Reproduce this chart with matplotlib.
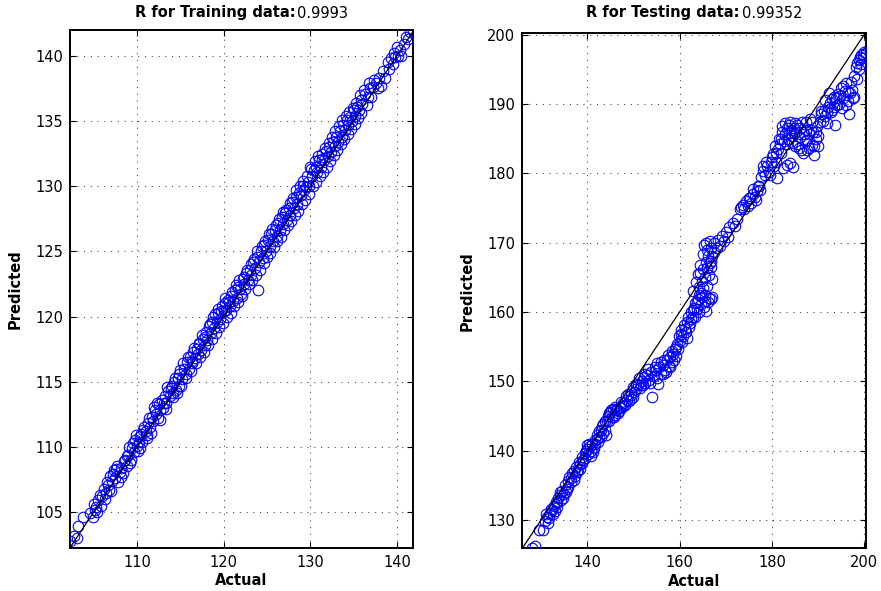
import matplotlib
matplotlib.use("Agg")
import matplotlib.pyplot as plt

plt.rcParams['font.family'] = ['DejaVu Sans']

# ---------------- data ----------------
train_actual = [
102.3,102.7,103.1,103.2,103.8,104.6,105.0,105.2,105.4,105.5,105.7,106.0,106.2,106.4,106.6,106.8,
106.9,107.1,107.3,107.5,107.6,107.8,108.0,108.2,108.4,108.6,108.8,109.0,109.1,109.3,109.5,109.6,
109.8,110.0,110.1,110.3,110.5,110.6,110.8,111.0,111.2,111.3,111.5,111.7,111.9,112.0,112.2,112.4,
112.5,112.7,112.9,113.0,113.2,113.4,113.6,113.8,114.0,114.1,114.3,114.5,114.7,114.8,115.0,115.2,
115.4,115.6,115.8,116.0,116.1,116.3,116.5,116.7,116.9,117.0,117.2,117.4,117.6,117.8,118.0,118.1,
118.3,118.5,118.7,118.9,119.0,119.2,119.4,119.6,119.8,120.0,120.1,120.3,120.5,120.7,120.9,121.1,
121.3,121.5,121.7,121.9,122.0,122.2,122.4,122.6,122.8,123.0,123.2,123.4,123.6,123.8,124.0,124.1,
124.3,124.5,124.7,124.9,125.1,125.3,125.5,125.7,125.9,126.1,126.3,126.5,126.7,126.9,127.1,127.3,
127.5,127.7,127.9,128.1,128.3,128.5,128.7,128.9,129.1,129.3,129.5,129.7,129.9,130.1,130.2,130.4,
130.6,130.8,131.0,131.2,131.4,131.6,131.8,132.0,132.2,132.4,132.6,132.8,133.0,133.2,133.4,133.6,
133.8,134.0,134.2,134.4,134.6,134.8,135.0,135.2,135.4,135.6,135.8,136.0,136.3,136.6,136.9,137.2,
137.6,137.9,138.2,138.6,139.0,139.3,139.6,139.8,140.0,140.3,140.5,141.0,141.5,141.8]
train_pred = [
102.8,103.2,103.0,103.9,104.6,104.9,105.6,105.2,105.0,105.9,106.3,106.2,106.8,106.5,107.1,106.7,
107.8,107.4,108.2,107.6,108.3,107.3,108.1,108.4,108.0,109.0,108.5,109.4,110.0,109.0,110.3,109.6,
110.5,110.1,109.7,110.8,111.0,110.4,111.5,111.2,110.9,111.8,111.5,112.3,112.0,113.1,112.5,112.2,
113.3,112.8,113.6,113.0,113.9,113.4,114.3,113.9,114.7,114.1,115.0,114.4,115.3,114.7,115.9,115.2,
116.0,115.6,116.5,116.0,116.9,116.4,117.3,116.8,117.5,117.1,118.0,117.4,118.3,117.8,118.8,118.2,
119.3,118.7,119.6,119.1,120.2,119.6,120.3,119.8,120.8,120.4,121.0,120.5,121.3,120.8,121.6,121.2,
122.0,121.4,122.3,122.1,121.7,122.9,122.5,123.3,122.8,123.6,123.2,124.2,123.7,124.6,122.0,124.2,
125.0,124.5,125.5,125.0,125.9,125.4,126.3,125.8,126.6,126.2,127.2,126.6,127.6,127.1,127.9,127.4,
128.3,127.8,128.8,128.3,129.2,128.6,129.5,129.3,130.0,129.7,129.9,130.3,130.0,131.3,130.8,131.2,
131.5,131.1,132.0,131.5,132.5,132.0,132.7,132.3,133.0,132.6,133.4,133.1,133.8,133.4,134.2,133.8,
134.7,134.3,135.1,134.7,135.3,135.0,135.8,135.4,136.1,135.8,136.6,136.3,137.1,136.8,137.5,137.6,
137.9,138.3,137.7,138.3,139.5,139.8,140.2,139.9,140.7,140.4,140.0,141.4,141.8,141.9]

# second group of training points (actual, predicted)
train_pairs_b = [
(104.9,104.6),(105.3,105.4),(105.8,105.5),(106.3,106.0),(106.5,107.3),(107.0,106.6),(107.2,107.9),
(107.7,108.5),(108.1,107.7),(108.5,108.9),(108.9,109.3),(109.2,108.8),(109.4,109.9),(109.9,110.9),
(110.2,110.4),(110.4,109.9),(110.7,111.3),(111.1,110.7),(111.4,112.2),(111.6,111.1),(112.1,112.8),
(112.3,113.4),(112.6,112.1),(113.1,113.4),(113.3,112.9),(113.5,114.6),(113.9,114.5),(114.2,113.8),
(114.4,115.3),(114.6,114.1),(114.9,115.6),(115.1,114.7),(115.3,116.4),(115.7,115.3),(115.9,116.9),
(116.2,115.8),(116.4,116.6),(116.6,117.6),(116.8,116.4),(117.1,117.9),(117.3,116.9),(117.5,118.6),
(117.7,117.3),(117.9,118.4),(118.2,117.8),(118.4,119.4),(118.6,118.3),(118.8,120.0),(119.1,118.7),
(119.3,120.6),(119.5,119.2),(119.7,120.4),(119.9,119.5),(120.2,121.4),(120.4,120.0),(120.6,121.1),
(120.8,120.3),(121.0,121.9),(121.2,120.8),(121.4,122.4),(121.6,121.1),(121.8,122.8),(122.1,121.6),
(122.3,123.0),(122.5,122.1),(122.7,123.6),(122.9,122.5),(123.1,124.0),(123.3,122.8),(123.5,124.4),
(123.7,123.2),(123.9,125.0),(124.2,123.6),(124.4,125.4),(124.6,124.1),(124.8,125.8),(125.0,124.6),
(125.2,126.3),(125.4,124.9),(125.6,126.7),(125.8,125.3),(126.0,127.0),(126.2,125.8),(126.4,127.5),
(126.6,126.1),(126.8,128.0),(127.0,126.6),(127.2,128.2),(127.4,127.0),(127.6,128.7),(127.8,127.3),
(128.0,129.1),(128.2,127.8),(128.4,129.7),(128.6,128.1),(128.8,130.0),(129.0,128.6),(129.2,130.4),
(129.4,128.9),(129.6,130.8),(129.8,129.4),(130.0,131.5),(130.3,130.0),(130.5,131.9),(130.7,130.3),
(130.9,132.3),(131.1,130.8),(131.3,132.1),(131.5,131.1),(131.7,132.9),(131.9,131.5),(132.1,133.3),
(132.3,131.9),(132.5,133.8),(132.7,132.4),(132.9,134.2),(133.1,132.8),(133.3,134.6),(133.5,133.2),
(133.7,135.1),(133.9,133.6),(134.1,135.4),(134.3,134.0),(134.5,135.7),(134.7,134.4),(134.9,136.0),
(135.1,134.8),(135.3,136.4),(135.5,135.2),(135.7,137.0),(135.9,135.6),(136.2,137.4),(136.5,136.2),
(136.8,137.9),(137.0,136.8),(137.4,138.1),(137.8,137.5),(138.4,138.8),(139.1,139.0),(139.5,139.4),
(140.1,140.0),(140.8,140.9),(141.3,141.3)]

test_actual = [
128.0,128.6,129.6,130.4,130.8,131.2,131.5,131.8,132.2,132.5,132.8,133.1,133.4,133.7,134.0,134.3,
134.6,134.9,135.2,135.5,135.8,136.1,136.4,136.7,137.0,137.3,137.6,137.9,138.2,138.5,138.8,139.1,
139.4,139.7,140.0,140.2,140.5,140.8,141.1,141.4,141.7,142.0,142.3,142.6,142.9,143.2,143.5,143.8,
144.1,144.4,144.7,145.0,145.3,145.6,145.9,146.2,146.6,147.0,147.4,147.8,148.2,148.6,149.0,149.4,
149.8,150.2,150.6,151.0,151.4,151.8,152.2,152.6,153.0,153.4,153.8,154.1,154.4,154.8,155.2,155.6,
156.0,156.4,156.8,157.2,157.6,158.0,158.3,158.6,158.9,159.2,159.5,159.8,160.1,160.4,160.7,161.0,
161.3,161.6,161.9,162.2,162.5,162.8,163.1,163.4,163.7,164.0,164.3,164.6,164.9,165.2,165.5,165.8,
166.1,166.4,166.8,167.1,163.0,163.6,164.2,164.5,164.8,165.1,165.4,165.7,165.9,166.2,166.5,166.8,
167.1,167.4,165.8,166.6,168.0,168.4,168.8,169.2,169.6,170.1,170.8,171.5,172.4,173.3,173.8,174.3,
174.8,175.3,175.8,176.3,176.8,177.3,177.7,178.1,178.5,178.9,179.3,179.7,180.1,180.5,180.9,181.3,
181.2,182.5,183.2,183.9,184.6,181.7,182.0,182.3,182.6,182.9,183.2,183.5,183.8,184.1,184.4,184.7,
185.0,185.3,185.6,185.9,186.2,186.5,186.8,187.1,187.4,187.7,188.0,188.3,188.6,188.9,189.2,189.5,
189.8,190.1,190.4,190.7,191.0,191.3,191.6,191.9,192.2,192.5,192.8,193.1,193.4,193.7,194.0,194.3,
194.6,194.9,195.2,195.5,195.8,196.1,196.4,196.7,197.0,197.3,197.6,197.9,198.2,198.5,198.8,199.1,
199.4,199.7,200.0,200.4]
test_pred = [
125.9,126.3,128.5,128.6,129.8,130.4,129.6,131.0,131.6,130.8,132.0,132.6,131.9,133.2,133.6,132.9,
134.1,133.8,135.0,134.5,135.6,136.2,135.4,136.7,137.0,136.4,137.6,137.2,138.3,138.0,139.0,138.6,
139.6,139.9,140.2,139.5,140.6,140.0,141.0,140.4,141.5,142.3,141.2,142.8,142.0,143.6,142.6,144.3,
142.3,145.0,144.2,145.5,144.8,146.0,145.1,145.8,145.4,146.3,146.1,146.8,146.6,147.3,147.1,148.0,
147.7,148.5,148.9,149.4,149.0,150.1,150.6,149.8,150.9,150.2,151.3,147.8,150.7,151.6,150.4,152.0,
151.1,152.4,151.6,153.0,152.2,153.5,152.8,154.0,154.7,153.6,155.4,156.6,155.8,157.4,156.6,158.1,
157.1,158.6,159.3,158.4,160.0,159.2,160.6,161.3,160.4,161.8,162.5,161.1,162.1,160.7,161.6,160.2,
161.4,162.0,161.8,162.2,163.0,164.3,163.6,165.6,164.4,166.2,165.0,167.2,166.3,168.0,167.0,169.2,
168.1,170.0,170.0,170.3,169.2,170.4,169.5,171.0,170.2,171.6,172.2,172.8,173.4,175.1,175.5,176.0,
175.3,176.4,177.0,176.6,177.4,178.2,179.4,180.4,179.8,181.1,180.2,181.6,182.3,181.1,182.9,183.5,
179.3,180.7,181.2,181.5,180.9,184.2,185.0,186.0,184.6,185.6,186.6,185.0,187.0,186.2,184.4,185.8,
187.2,186.0,184.2,183.6,185.2,187.4,183.0,184.6,186.3,183.4,185.6,187.9,184.1,186.0,182.6,185.0,
186.8,184.0,187.4,188.5,187.6,189.0,188.2,187.2,189.5,190.2,188.8,190.7,189.6,187.0,190.9,191.5,
190.0,192.3,189.4,190.8,191.9,193.0,190.4,188.6,191.6,192.0,190.8,194.0,195.4,195.9,196.4,196.8,
195.8,197.2,197.5,197.4]

# second group of testing points (actual, predicted)
test_pairs_b = [
(131.0,130.9),(131.7,130.2),(132.3,131.4),(133.0,131.3),(133.5,132.5),(134.1,134.0),(134.7,133.2),
(135.3,134.0),(135.9,134.8),(136.5,136.0),(137.1,135.8),(137.7,136.9),(138.3,137.4),(138.9,138.2),
(139.5,138.9),(139.9,140.8),(140.3,140.9),(140.7,139.2),(141.2,139.8),(141.6,140.9),(142.1,141.6),
(142.5,141.9),(143.0,142.9),(143.4,143.9),(143.9,143.0),(144.3,144.2),(144.8,145.4),(145.2,145.9),
(145.7,144.9),(146.1,146.3),(146.5,146.0),(146.9,145.7),(147.3,147.0),(147.7,146.4),(148.3,147.9),
(148.9,148.2),(149.5,147.5),(150.0,149.2),(150.5,149.6),(151.1,150.5),(151.6,149.5),(152.1,149.5),
(152.5,151.0),(153.1,151.8),(153.6,149.8),(154.6,152.0),(155.0,152.6),(155.4,149.6),(155.9,152.8),
(156.3,151.0),(156.7,153.1),(157.1,151.3),(157.5,153.8),(157.9,152.0),(158.4,154.4),(158.8,153.0),
(159.3,155.0),(159.7,154.6),(160.2,156.8),(160.6,155.6),(161.1,157.6),(161.5,156.2),(162.0,157.8),
(162.4,159.0),(162.9,160.3),(163.3,159.3),(163.8,161.5),(164.2,160.0),(164.7,162.7),(165.1,163.5),
(165.6,162.5),(166.0,163.8),(166.4,165.3),(166.7,166.5),(167.0,164.8),(164.0,165.5),(164.4,166.8),
(165.0,168.4),(165.3,169.6),(166.0,169.0),(166.9,167.4),(167.5,168.6),(170.5,170.8),(171.9,172.4),
(173.0,174.8),(174.0,174.8),(175.0,176.5),(175.5,175.7),(176.0,177.8),(176.5,176.2),(177.0,178.2),
(177.5,177.6),(178.0,181.0),(178.7,181.6),(179.5,179.8),(180.3,182.8),(180.7,184.0),(181.0,181.6),
(181.5,185.0),(181.9,183.0),(182.2,186.8),(182.8,187.2),(183.3,184.2),(183.7,185.8),(184.0,187.4),
(184.3,185.4),(184.8,186.6),(185.1,184.0),(185.5,187.0),(186.0,186.6),(186.4,183.4),(186.9,185.6),
(187.3,187.4),(187.6,184.8),(188.1,183.6),(188.5,186.3),(188.8,187.4),(189.1,183.9),(189.6,186.0),
(190.0,185.4),(190.6,189.0),(191.5,190.6),(192.0,188.8),(192.4,191.6),(193.0,189.2),(193.5,191.0),
(194.2,189.8),(194.8,191.2),(195.4,192.6),(196.0,189.8),(196.6,191.8),(197.2,193.2),(197.7,191.0),
(198.4,193.6),(198.9,195.0),(199.3,197.0),(199.8,196.6)]

train_title = "R for Training data:"
train_r = "0.9993"
test_title = "R for Testing data:"
test_r = "0.99352"

train_xlim = (102.27, 141.85)
train_ylim = (102.25, 141.97)
test_xlim = (125.9, 200.4)
test_ylim = (125.9, 200.2)
train_xticks = [110, 120, 130, 140]
train_yticks = [105, 110, 115, 120, 125, 130, 135, 140]
test_xticks = [140, 160, 180, 200]
test_yticks = [130, 140, 150, 160, 170, 180, 190, 200]

# ---------------- figure ----------------
fig = plt.figure(figsize=(8.81, 5.91), dpi=100)
ax1 = fig.add_axes([70/881, 1-548/591, 343/881, 518/591])
ax2 = fig.add_axes([522.3/881, 1-548.3/591, 343.7/881, 515/591])

train_x = train_actual + [p[0] for p in train_pairs_b]
train_y = train_pred + [p[1] for p in train_pairs_b]
test_x = test_actual + [p[0] for p in test_pairs_b]
test_y = test_pred + [p[1] for p in test_pairs_b]

panels = [
    (ax1, train_x, train_y, train_xlim, train_ylim, train_xticks, train_yticks),
    (ax2, test_x, test_y, test_xlim, test_ylim, test_xticks, test_yticks),
]
for ax, xa, ya, xl, yl, xt, yt in panels:
    ax.plot(xa, ya, linestyle='none', marker='o', markersize=7.6,
            markerfacecolor='none', markeredgecolor='#0000ff', markeredgewidth=0.8,
            zorder=3, clip_on=True)
    lo = min(xl[0], yl[0]); hi = max(xl[1], yl[1])
    ax.plot([lo, hi], [lo, hi], color='black', linewidth=0.9, zorder=4)
    ax.set_xlim(*xl)
    ax.set_ylim(*yl)
    ax.set_xticks(xt)
    ax.set_yticks(yt)
    ax.grid(True, color='#3a3a3a', linestyle=(0, (1, 5.5)), linewidth=0.75)
    ax.set_axisbelow(True)
    ax.tick_params(direction='in', top=True, right=True, length=4, width=0.8,
                   labelsize=10.5, pad=5, colors='black')
    for s in ax.spines.values():
        s.set_linewidth(1.4)
    ax.set_xlabel('Actual', fontsize=10.5, fontweight='bold', labelpad=2.5)

ax1.set_ylabel('Predicted', fontsize=10.5, fontweight='bold', labelpad=9)
ax2.set_ylabel('Predicted', fontsize=10.5, fontweight='bold', labelpad=9)

# titles: bold part + normal part, centred together
fig.canvas.draw()
renderer = fig.canvas.get_renderer()
for ax, t_b, t_n in [(ax1, train_title, train_r), (ax2, test_title, test_r)]:
    bb = ax.get_position()
    cx = (bb.x0 + bb.x1) / 2
    y = 1 - 13/591
    tb = fig.text(0, y, t_b, fontsize=10.5, fontweight='bold', ha='left', va='center')
    tn = fig.text(0, y, t_n, fontsize=10.5, ha='left', va='center')
    wb = tb.get_window_extent(renderer).width / fig.bbox.width
    wn = tn.get_window_extent(renderer).width / fig.bbox.width
    gap = 2 / fig.bbox.width
    x0 = cx - (wb + gap + wn) / 2
    tb.set_x(x0)
    tn.set_x(x0 + wb + gap)

fig.savefig('out.png', dpi=100)
